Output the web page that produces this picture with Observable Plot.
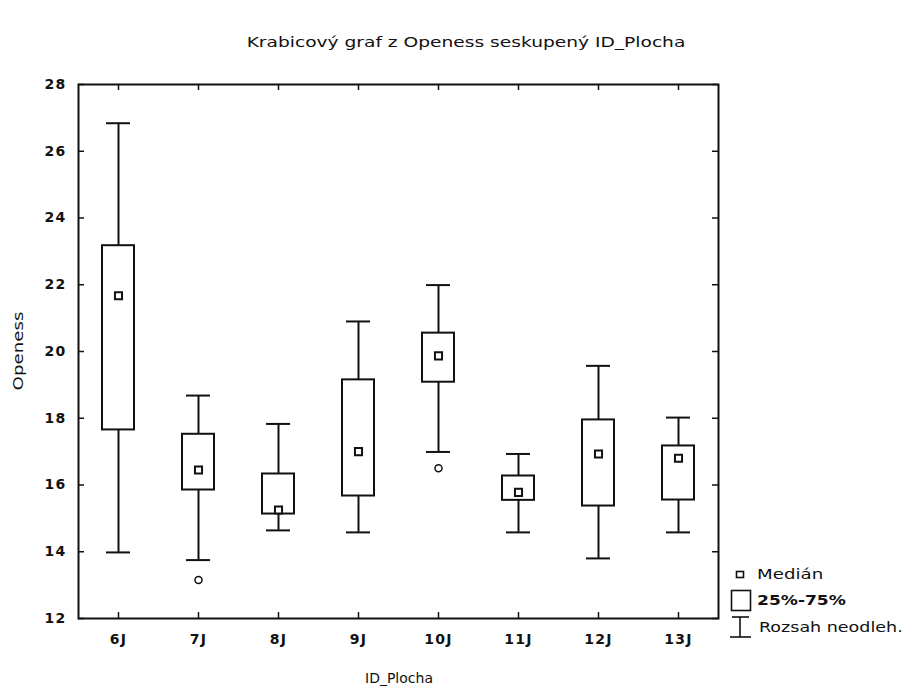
<!DOCTYPE html>
<html>
<head>
<meta charset="utf-8">
<script src="https://cdn.jsdelivr.net/npm/d3@7"></script>
<script src="https://cdn.jsdelivr.net/npm/@observablehq/plot@0.6"></script>
<style>
  html, body { margin: 0; padding: 0; background: #fff; }
  #wrap { position: relative; width: 916px; height: 689px; overflow: hidden; font-family: "DejaVu Sans", sans-serif; color: #111; }
  #chart { position: absolute; left: 0; top: 0; }
  .lbl { position: absolute; white-space: nowrap; line-height: 1; }
  #title { left: 466px; top: 35px; font-size: 14px; transform: translateX(-50%) scaleX(1.33); }
  #ylab { left: 18px; top: 351px; font-size: 14px; transform: translate(-50%, -50%) rotate(-90deg) scaleX(1.3); }
  #xlab { left: 399px; top: 671px; font-size: 14px; transform: translateX(-50%); }
  .leg { position: absolute; left: 757px; font-size: 14px; transform-origin: 0 50%; transform: translateY(-50%) scaleX(1.3); white-space: nowrap; line-height: 1; }
  #legicons { position: absolute; left: 725px; top: 560px; }
</style>
</head>
<body>
<div id="wrap">
  <div id="chart"></div>
  <div class="lbl" id="title">Krabicový graf z Openess seskupený ID_Plocha</div>
  <div class="lbl" id="ylab">Openess</div>
  <div class="lbl" id="xlab">ID_Plocha</div>
  <svg id="legicons" width="40" height="80">
    <rect x="11.5" y="11.5" width="7" height="6" fill="none" stroke="#111" stroke-width="1.6"></rect>
    <rect x="6.5" y="30.5" width="19" height="20" fill="none" stroke="#111" stroke-width="1.6"></rect>
    <line x1="15" y1="57" x2="15" y2="77" stroke="#111" stroke-width="1.6"></line>
    <line x1="7" y1="57" x2="24" y2="57" stroke="#111" stroke-width="1.6"></line>
    <line x1="5" y1="77" x2="26" y2="77" stroke="#111" stroke-width="1.6"></line>
  </svg>
  <div class="leg" style="top:574px;">Medián</div>
  <div class="leg" style="top:600px; font-weight:bold; transform: translateY(-50%) scaleX(1.22);">25%-75%</div>
  <div class="leg" style="top:627px; left:759px; transform: translateY(-50%) scaleX(1.25);">Rozsah neodleh.</div>
</div>
<script>
const categories = ["6J", "7J", "8J", "9J", "10J", "11J", "12J", "13J"];
const whiskerLow  = [13.98, 13.75, 14.64, 14.58, 16.99, 14.58, 13.80, 14.58];
const quartile1   = [17.65, 15.85, 15.13, 15.67, 19.08, 15.54, 15.37, 15.55];
const medians     = [21.67, 16.45, 15.25, 17.00, 19.87, 15.78, 16.93, 16.80];
const quartile3   = [23.17, 17.52, 16.33, 19.15, 20.55, 16.27, 17.95, 17.17];
const whiskerHigh = [26.84, 18.68, 17.83, 20.90, 21.99, 16.93, 19.57, 18.02];
const outlierCategories = ["7J", "10J"];
const outlierValues = [13.15, 16.50];
const yTicks = [12, 14, 16, 18, 20, 22, 24, 26, 28];

const table = categories.map((c, i) => ({
  cat: c, lo: whiskerLow[i], q1: quartile1[i], med: medians[i], q3: quartile3[i], hi: whiskerHigh[i]
}));
const outliers = outlierCategories.map((c, i) => ({cat: c, v: outlierValues[i]}));

const W = 916, H = 689, ML = 78, MR = 198, MT = 84, MB = 71;
const PW = W - ML - MR, PH = H - MT - MB;
const ink = "#111";

const plot = Plot.plot({
  width: W, height: H,
  marginLeft: ML, marginRight: MR, marginTop: MT, marginBottom: MB,
  style: {fontFamily: "DejaVu Sans, sans-serif", background: "white", color: ink},
  x: {type: "band", domain: categories, padding: 0, label: null},
  y: {domain: [12, 28], label: null},
  marks: [
    Plot.ruleY(yTicks, {y: d => d, insetRight: PW - 6, stroke: ink, strokeWidth: 1.5}),
    Plot.ruleY(yTicks, {y: d => d, insetLeft: PW - 6, stroke: ink, strokeWidth: 1.5}),
    Plot.ruleX(categories, {x: d => d, insetTop: PH - 6, stroke: ink, strokeWidth: 1.5}),
    Plot.ruleX(categories, {x: d => d, insetBottom: PH - 6, stroke: ink, strokeWidth: 1.5}),
    Plot.axisY(yTicks, {tickSize: 0, tickPadding: 12, fontWeight: "bold", fontSize: 14, label: null}),
    Plot.axisX({tickSize: 0, tickPadding: 16, fontWeight: "bold", fontSize: 14, label: null}),
    Plot.ruleX(table, {x: "cat", y1: "lo", y2: "q1", stroke: ink, strokeWidth: 2}),
    Plot.ruleX(table, {x: "cat", y1: "q3", y2: "hi", stroke: ink, strokeWidth: 2}),
    Plot.tickY(table, {x: "cat", y: "lo", insetLeft: 28, insetRight: 28, stroke: ink, strokeWidth: 2}),
    Plot.tickY(table, {x: "cat", y: "hi", insetLeft: 28, insetRight: 28, stroke: ink, strokeWidth: 2}),
    Plot.barY(table, {x: "cat", y1: "q1", y2: "q3", insetLeft: 24, insetRight: 24, fill: "white", stroke: ink, strokeWidth: 2}),
    Plot.dot(table, {x: "cat", y: "med", symbol: "square", r: 4, fill: "white", stroke: ink, strokeWidth: 2}),
    Plot.dot(outliers, {x: "cat", y: "v", r: 3.5, fill: "white", stroke: ink, strokeWidth: 1.5}),
    Plot.frame({stroke: ink, strokeWidth: 2})
  ]
});
d3.select(plot).selectAll("g[aria-label='y-axis tick label'] text, g[aria-label='x-axis tick label'] text")
  .style("letter-spacing", "1.2px");
document.getElementById("chart").appendChild(plot);
</script>
</body>
</html>
